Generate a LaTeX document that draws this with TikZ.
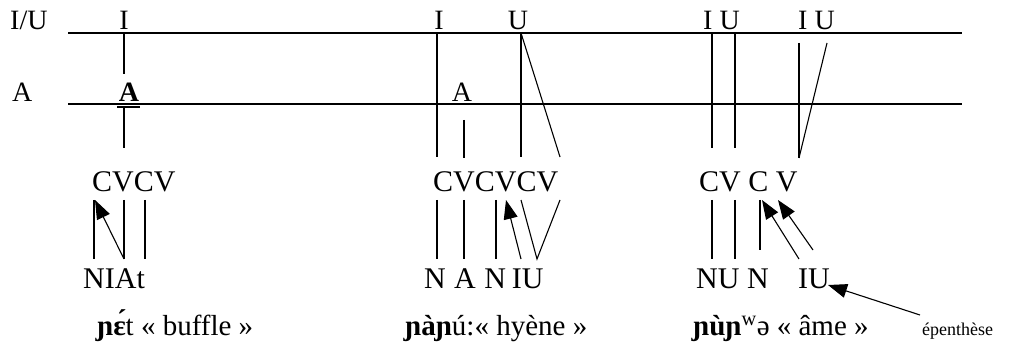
\documentclass[tikz,border=0pt]{standalone}
\usepackage{fontspec}
\setmainfont{Liberation Serif}
\usetikzlibrary{arrows.meta}
\begin{document}
\begin{tikzpicture}[x=1pt,y=-1pt,
  ln/.style={line width=1.1pt},
  arr/.style={line width=1.1pt,-{Triangle[length=19pt,width=14pt]}},
  lab/.style={inner sep=0pt,anchor=base west,font=\fontsize{28}{30}\selectfont},
  seg/.style={inner sep=0pt,anchor=base west,font=\fontsize{30}{32}\selectfont},
  gl/.style={inner sep=0pt,anchor=base west,font=\fontsize{29}{32}\selectfont},
  sm/.style={inner sep=0pt,anchor=base west,font=\fontsize{18}{20}\selectfont}]
\useasboundingbox (0,0) rectangle (1017,347);
% tiers
\node[lab] (tIU) at (10,30) {I/U};
\node[lab] (tA) at (12,102) {A};
\coordinate (h1a) at (68,33); \coordinate (h1b) at (962,33);
\coordinate (h2a) at (68,104); \coordinate (h2b) at (962,104);
\draw[ln] (h1a) -- (h1b);
\draw[ln] (h2a) -- (h2b);
% word 1
\node[lab,anchor=base] (w1I) at (124,30) {I};
\node[lab,anchor=base] (w1A) at (129,102) {\textbf{A}};
\coordinate (w1u1) at (117,107); \coordinate (w1u2) at (140,107);
\draw[line width=2.5pt] (w1u1) -- (w1u2);
\coordinate (a1) at (124,34); \coordinate (a2) at (124,74);
\coordinate (a3) at (124,108); \coordinate (a4) at (124,148);
\draw[ln] (a1) -- (a2);
\draw[ln] (a3) -- (a4);
\node[seg] (w1cv) at (92,192) {CVCV};
\node[seg] (w1m) at (83,288) {NIAt};
\coordinate (b1t) at (94,200); \coordinate (b1b) at (94,259);
\coordinate (b2t) at (124,200); \coordinate (b2b) at (124,259);
\coordinate (b3t) at (145,200); \coordinate (b3b) at (145,259);
\coordinate (b4t) at (95,200);
\draw[ln] (b1t) -- (b1b);
\draw[ln] (b2t) -- (b2b);
\draw[ln] (b3t) -- (b3b);
\draw[arr] (b2b) -- (b4t);
\node[gl] (w1g) at (97,335) {\textbf{ɲɛ́}t « buffle »};
% word 2
\node[lab,anchor=base] (w2I) at (439,30) {I};
\node[lab,anchor=base] (w2U) at (518,30) {U};
\node[lab,anchor=base] (w2A) at (462,102) {A};
\coordinate (c1t) at (437,33); \coordinate (c1b) at (437,157);
\coordinate (c2t) at (521,33); \coordinate (c2b) at (521,157);
\coordinate (c3b) at (560,157);
\coordinate (c4t) at (464,120); \coordinate (c4b) at (464,158);
\draw[ln] (c1t) -- (c1b);
\draw[ln] (c2t) -- (c2b);
\draw[ln] (c2t) -- (c3b);
\draw[ln] (c4t) -- (c4b);
\node[seg] (w2cv) at (433,192) {CVCVCV};
\node[seg] (w2m) at (424,288) {N\hspace{0.28em}A\hspace{0.28em}N\hspace{0.2em}IU};
\coordinate (d1t) at (437,200); \coordinate (d1b) at (437,259);
\coordinate (d2t) at (464,200); \coordinate (d2b) at (464,259);
\coordinate (d3t) at (496,200); \coordinate (d3b) at (496,259);
\coordinate (d4b) at (521,259); \coordinate (d4t) at (506,200);
\coordinate (d5a) at (521,200); \coordinate (d5b) at (537,259); \coordinate (d5c) at (560,200);
\draw[ln] (d1t) -- (d1b);
\draw[ln] (d2t) -- (d2b);
\draw[ln] (d3t) -- (d3b);
\draw[arr] (d4b) -- (d4t);
\draw[ln] (d5a) -- (d5b) -- (d5c);
\node[gl] (w2g) at (405,335) {\textbf{ɲàɲ}ú:« hyène »};
% word 3
\node[lab] (w3IU1) at (703,30) {I U};
\node[lab] (w3IU2) at (798,30) {I U};
\coordinate (e1t) at (712,33); \coordinate (e1b) at (712,148);
\coordinate (e2t) at (735,33); \coordinate (e2b) at (735,148);
\coordinate (e3t) at (799,43); \coordinate (e3b) at (799,158);
\coordinate (e4t) at (827,43);
\draw[ln] (e1t) -- (e1b);
\draw[ln] (e2t) -- (e2b);
\draw[ln] (e3t) -- (e3b);
\draw[ln] (e4t) -- (e3b);
\node[seg] (w3cv) at (699,192) {CV C V};
\node[seg] (w3m1) at (696,288) {NU N};
\node[seg] (w3m2) at (798,288) {IU};
\coordinate (f1t) at (712,200); \coordinate (f1b) at (712,259);
\coordinate (f2t) at (735,200); \coordinate (f2b) at (735,259);
\coordinate (f3t) at (760,200); \coordinate (f3b) at (760,250);
\coordinate (f4b) at (799,259); \coordinate (f4t) at (762,200);
\coordinate (f5b) at (813,250); \coordinate (f5t) at (778,200);
\draw[ln] (f1t) -- (f1b);
\draw[ln] (f2t) -- (f2b);
\draw[ln] (f3t) -- (f3b);
\draw[arr] (f4b) -- (f4t);
\draw[arr] (f5b) -- (f5t);
\node[gl] (w3g) at (693,335) {\textbf{ɲùɲ}\textsuperscript{w}ə « âme »};
\node[sm] (ep) at (922,335) {épenthèse};
\coordinate (g1) at (920,315); \coordinate (g2) at (828,285);
\draw[arr] (g1) -- (g2);
\end{tikzpicture}
\end{document}
